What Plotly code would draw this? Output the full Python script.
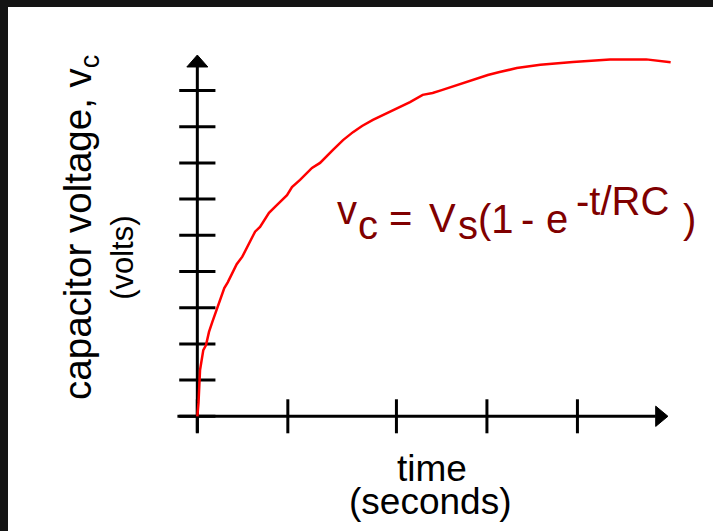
import plotly.graph_objects as go

# ---- data ----
t_data = [0, 0.013, 0.03, 0.066, 0.096, 0.129, 0.166, 0.203, 0.232, 0.27, 0.298, 0.336,
          0.369, 0.398, 0.435, 0.497, 0.564, 0.638, 0.693, 0.792, 0.881, 0.991, 1.046,
          1.135, 1.267, 1.356, 1.499, 1.61, 1.72, 1.82, 1.94, 2.07, 2.21, 2.35, 2.49,
          2.60, 2.70, 2.81, 2.90, 3.00, 3.10, 3.21, 3.34, 3.53, 3.79, 4.15, 4.56, 4.96, 5.23]
vc_data = [0, 0.37, 1.28, 1.83, 1.97, 2.33, 2.61, 2.87, 3.12, 3.35, 3.54, 3.70,
           3.86, 4.02, 4.20, 4.41, 4.73, 5.10, 5.23, 5.62, 5.84, 6.11, 6.33,
           6.53, 6.86, 7.00, 7.36, 7.63, 7.85, 8.02, 8.19, 8.35, 8.52, 8.68, 8.88,
           8.93, 9.01, 9.10, 9.18, 9.26, 9.35, 9.43, 9.51, 9.62, 9.71, 9.79, 9.86, 9.86, 9.78]
x_ticks = [0, 1, 2.2, 3.2, 4.2]
y_ticks = [0, 1, 2, 3, 4, 5, 6, 7, 8, 9]
x_axis_start, x_axis_end = -0.22, 5.20
y_axis_start, y_axis_end = -0.45, 9.98

x_label = "time"
x_label2 = "(seconds)"
y_label = "capacitor voltage, v<sub>c</sub>"
y_label2 = "(volts)"

# ---- styling ----
AX = "#000000"
CURVE = "#ff0000"
EQ = "#800000"
FONT = "Liberation Sans, Arial, sans-serif"
x_tick_half = 0.47   # in y units
y_tick_half = 0.20   # in x units
arrow_len_x, arrow_half_x = 0.135, 0.28
arrow_len_y, arrow_half_y = 0.33, 0.116

fig = go.Figure()

# axis lines
fig.add_trace(go.Scatter(x=[x_axis_start, x_axis_end - arrow_len_x], y=[0, 0], mode="lines",
                         line=dict(color=AX, width=3), hoverinfo="skip"))
fig.add_trace(go.Scatter(x=[0, 0], y=[y_axis_start, y_axis_end - arrow_len_y], mode="lines",
                         line=dict(color=AX, width=3), hoverinfo="skip"))

# ticks
tx, ty = [], []
for v in x_ticks:
    tx += [v, v, None]
    ty += [-x_tick_half, x_tick_half, None]
for v in y_ticks:
    tx += [-y_tick_half, y_tick_half, None]
    ty += [v, v, None]
fig.add_trace(go.Scatter(x=tx, y=ty, mode="lines", line=dict(color=AX, width=3),
                         hoverinfo="skip"))

# arrow heads
fig.add_trace(go.Scatter(
    x=[x_axis_end - arrow_len_x, x_axis_end, x_axis_end - arrow_len_x, x_axis_end - arrow_len_x],
    y=[-arrow_half_x, 0, arrow_half_x, -arrow_half_x],
    mode="lines", fill="toself", fillcolor=AX, line=dict(color=AX, width=1), hoverinfo="skip"))
fig.add_trace(go.Scatter(
    x=[-arrow_half_y, 0, arrow_half_y, -arrow_half_y],
    y=[y_axis_end - arrow_len_y, y_axis_end, y_axis_end - arrow_len_y, y_axis_end - arrow_len_y],
    mode="lines", fill="toself", fillcolor=AX, line=dict(color=AX, width=1), hoverinfo="skip"))

# the charging curve
fig.add_trace(go.Scatter(x=t_data, y=vc_data, mode="lines",
                         line=dict(color=CURVE, width=2.5), hoverinfo="skip"))

annotations = []


def ann(text, x, y, size, color="#000000", xanchor="left", angle=0):
    annotations.append(dict(text=text, x=x, y=y, xref="x", yref="y", showarrow=False,
                            xanchor=xanchor, yanchor="middle", textangle=angle,
                            font=dict(family=FONT, size=size, color=color)))


# axis titles
ann(x_label, 2.59, -1.453, 37, xanchor="center")
ann(x_label2, 2.57, -2.345, 37, xanchor="center")
ann(y_label, -1.29, 5.22, 38.5, xanchor="center", angle=-90)
ann(y_label2, -0.835, 4.37, 31, xanchor="center", angle=-90)

# formula  v_c = V_s(1 - e^(-t/RC) )
formula = [("v", 1.522, 5.696), ("c", 1.754, 5.282), ("=", 2.096, 5.475),
           ("V", 2.538, 5.475), ("s", 2.859, 5.282), ("(1", 3.080, 5.448),
           ("-", 3.555, 5.448), ("e", 3.831, 5.448), ("-t/RC", 4.162, 5.945),
           (")", 5.345, 5.448)]
for txt, fx, fy in formula:
    ann(txt, fx, fy, 40, color=EQ)

fig.update_layout(
    width=713, height=531, autosize=False,
    margin=dict(l=8, r=0, t=7, b=0, pad=0),
    paper_bgcolor="#141414", plot_bgcolor="#ffffff",
    showlegend=False,
    xaxis=dict(range=[-2.092, 5.698], visible=False, fixedrange=True),
    yaxis=dict(range=[-3.169, 11.307], visible=False, fixedrange=True),
    annotations=annotations,
)

fig.write_html("out.html", config={"displayModeBar": False},
               post_script="document.body.style.margin='0px';document.body.style.overflow='hidden';")
